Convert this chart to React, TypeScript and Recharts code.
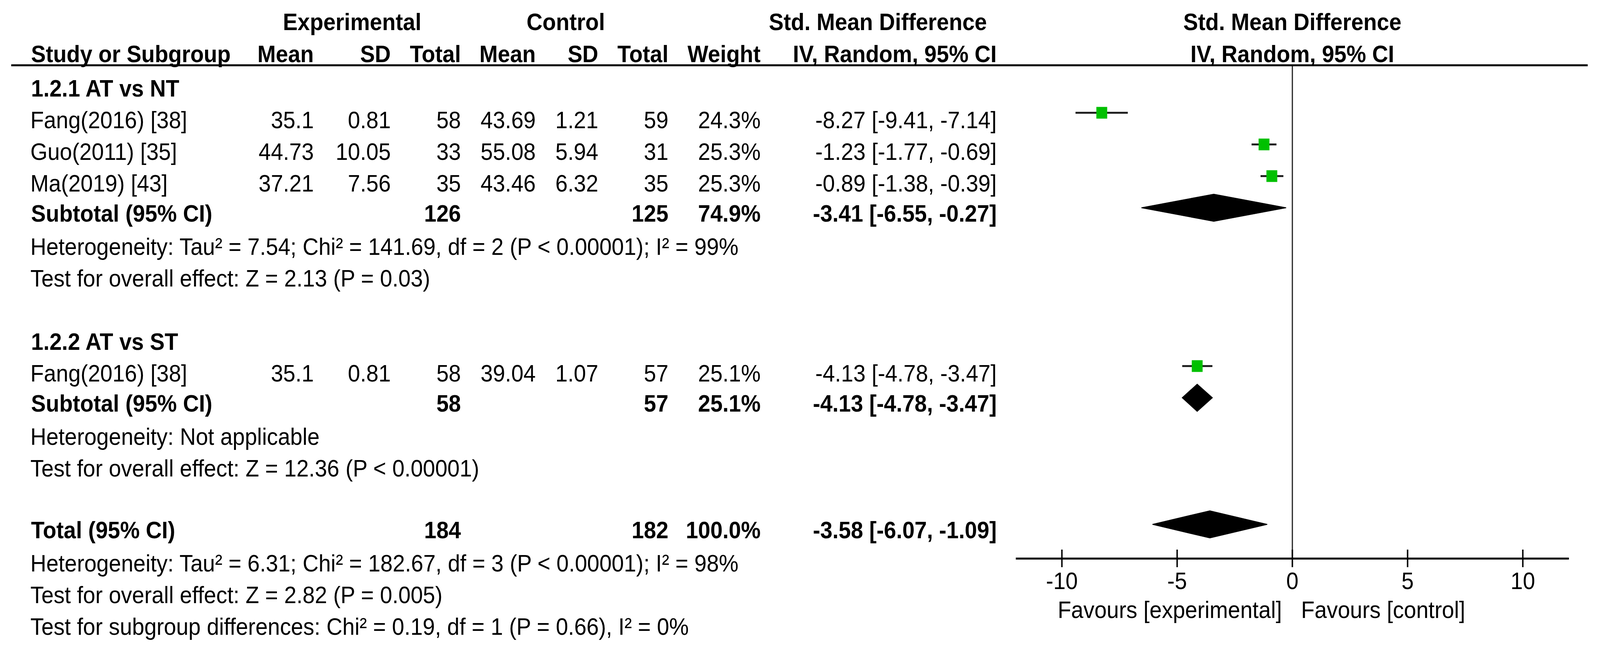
import React from 'react';
import { ComposedChart, Scatter, XAxis, YAxis, ErrorBar, ReferenceLine } from 'recharts';

const W = 4426;
const H = 1668;
const FONT = '"Liberation Sans", Arial, sans-serif';
const FS = 61;

// individual studies
const studyNames = ['Fang(2016) [38]', 'Guo(2011) [35]', 'Ma(2019) [43]', 'Fang(2016) [38]'];
const studyRows = [2, 3, 4, 10];
const expMean = [35.1, 44.73, 37.21, 35.1];
const expSD = [0.81, 10.05, 7.56, 0.81];
const expTotal = [58, 33, 35, 58];
const ctrlMean = [43.69, 55.08, 43.46, 39.04];
const ctrlSD = [1.21, 5.94, 6.32, 1.07];
const ctrlTotal = [59, 31, 35, 57];
const studyWeight = [24.3, 25.3, 25.3, 25.1];
const studySmd = [-8.27, -1.23, -0.89, -4.13];
const studyLo = [-9.41, -1.77, -1.38, -4.78];
const studyHi = [-7.14, -0.69, -0.39, -3.47];

// subtotals and total
const poolNames = ['Subtotal (95% CI)', 'Subtotal (95% CI)', 'Total (95% CI)'];
const poolRows = [5, 11, 15];
const poolExpTotal = [126, 58, 184];
const poolCtrlTotal = [125, 57, 182];
const poolWeight = [74.9, 25.1, 100.0];
const poolEst = [-3.41, -4.13, -3.58];
const poolLo = [-6.55, -4.78, -6.07];
const poolHi = [-0.27, -3.47, -1.09];

const groupNames = ['1.2.1 AT vs NT', '1.2.2 AT vs ST'];
const groupRows = [1, 9];

const notes = [
  'Heterogeneity: Tau² = 7.54; Chi² = 141.69, df = 2 (P < 0.00001); I² = 99%',
  'Test for overall effect: Z = 2.13 (P = 0.03)',
  'Heterogeneity: Not applicable',
  'Test for overall effect: Z = 12.36 (P < 0.00001)',
  'Heterogeneity: Tau² = 6.31; Chi² = 182.67, df = 3 (P < 0.00001); I² = 98%',
  'Test for overall effect: Z = 2.82 (P = 0.005)',
  'Test for subgroup differences: Chi² = 0.19, df = 1 (P = 0.66), I² = 0%',
];
const noteRows = [6, 7, 12, 13, 16, 17, 18];

const axisTicks = [-10, -5, 0, 5, 10];
const axisDomain = [-12, 12];

// layout of the table
const ROW0 = 166.5;
const ROWH = 81;
const baseY = (r: number) => ROW0 + ROWH * r;
const colX = { expMean: 868, expSD: 1081, expTotal: 1275, ctrlMean: 1482, ctrlSD: 1655, ctrlTotal: 1849, weight: 2104, ci: 2757 };
const ZERO_X = 3575;

const fmtCI = (e: number, l: number, h: number) => `${e.toFixed(2)} [${l.toFixed(2)}, ${h.toFixed(2)}]`;

const studyData = studySmd.map((s, i) => ({
  smd: s,
  row: studyRows[i],
  ci: [s - studyLo[i], studyHi[i] - s],
}));

const DIAMOND_HALF = 0.43;
const diamondData = poolEst.map((e, i) => [
  { smd: poolLo[i], row: poolRows[i] },
  { smd: e, row: poolRows[i] - DIAMOND_HALF },
  { smd: poolHi[i], row: poolRows[i] },
  { smd: e, row: poolRows[i] + DIAMOND_HALF },
]);

const Square = (p: any) => (
  <rect x={p.cx - 15} y={p.cy - 15} width={30} height={30} fill="#00c000" />
);

const Diamond = (p: any) => {
  const pts = p.points || [];
  if (!pts.length) return <g />;
  const d = pts.map((pt: any, i: number) => `${i ? 'L' : 'M'}${pt.x},${pt.y}`).join(' ') + ' Z';
  return <path d={d} fill="#000" stroke="#000" strokeWidth={2} />;
};

const AxisTick = (p: any) => (
  <g>
    <line x1={p.x} x2={p.x} y1={p.y - 23} y2={p.y + 22} stroke="#000" strokeWidth={4} />
    <text x={p.x} y={p.y + 78} textAnchor="middle" fontFamily={FONT} fontSize={FS} fill="#000">
      {p.payload.value}
    </text>
  </g>
);

const T = (props: any) => (
  <text fontFamily={FONT} fontSize={FS} fill="#000" {...props} />
);

export default function App() {
  // the browser viewport may be narrower than the figure; fit it to the frame
  const vw = typeof window !== 'undefined' ? window.innerWidth : W;
  const vh = typeof window !== 'undefined' ? window.innerHeight : H;
  const sx = Math.min(1, vw / W);
  const sy = Math.min(1, vh / H);

  return (
    <div style={{ width: W * sx, height: H * sy, overflow: 'hidden', background: '#fff' }}>
      <style>{'html,body{margin:0;padding:0;overflow:hidden;background:#fff}'}</style>
      <div style={{ position: 'relative', width: W, height: H, transform: `scale(${sx}, ${sy})`, transformOrigin: '0 0' }}>
        <ComposedChart
          width={W}
          height={H}
          margin={{ top: 167, right: 86, left: 2810, bottom: 139 }}
        >
          <XAxis
            type="number"
            dataKey="smd"
            domain={axisDomain}
            ticks={axisTicks}
            allowDataOverflow
            height={100}
            tickSize={0}
            tickMargin={0}
            tickLine={false}
            axisLine={{ stroke: '#000', strokeWidth: 5 }}
            tick={AxisTick}
            interval={0}
          />
          <YAxis type="number" dataKey="row" domain={[0.5, 16.08]} reversed hide allowDataOverflow />
          <ReferenceLine x={0} stroke="#333" strokeWidth={3.5} />
          <Scatter data={studyData} shape={Square} isAnimationActive={false}>
            <ErrorBar dataKey="ci" direction="x" width={0} stroke="#222" strokeWidth={5} isAnimationActive={false} />
          </Scatter>
          {diamondData.map((d, i) => (
            <Scatter
              key={i}
              data={d}
              shape={() => <g />}
              line={Diamond}
              isAnimationActive={false}
            />
          ))}
        </ComposedChart>
        <svg
          width={W}
          height={H}
          style={{ position: 'absolute', left: 0, top: 0, pointerEvents: 'none' }}
        >
          <line x1={31} x2={4392} y1={167} y2={167} stroke="#000" strokeWidth={5} />
          {/* column headers */}
          <g fontWeight="bold">
            <T x={974} y={77} textAnchor="middle">Experimental</T>
            <T x={1565} y={77} textAnchor="middle">Control</T>
            <T x={2730} y={77} textAnchor="end">Std. Mean Difference</T>
            <T x={ZERO_X} y={77} textAnchor="middle">Std. Mean Difference</T>
            <T x={86} y={159}>Study or Subgroup</T>
            <T x={colX.expMean} y={159} textAnchor="end">Mean</T>
            <T x={colX.expSD} y={159} textAnchor="end">SD</T>
            <T x={colX.expTotal} y={159} textAnchor="end">Total</T>
            <T x={colX.ctrlMean} y={159} textAnchor="end">Mean</T>
            <T x={colX.ctrlSD} y={159} textAnchor="end">SD</T>
            <T x={colX.ctrlTotal} y={159} textAnchor="end">Total</T>
            <T x={colX.weight} y={159} textAnchor="end">Weight</T>
            <T x={colX.ci} y={159} textAnchor="end">IV, Random, 95% CI</T>
            <T x={ZERO_X} y={159} textAnchor="middle">IV, Random, 95% CI</T>
          </g>
          {/* subgroup headings */}
          {groupNames.map((g, i) => (
            <T key={g} x={86} y={baseY(groupRows[i])} fontWeight="bold">{g}</T>
          ))}
          {/* study rows */}
          {studyNames.map((n, i) => {
            const y = baseY(studyRows[i]);
            return (
              <g key={i}>
                <T x={84} y={y}>{n}</T>
                <T x={colX.expMean} y={y} textAnchor="end">{String(expMean[i])}</T>
                <T x={colX.expSD} y={y} textAnchor="end">{String(expSD[i])}</T>
                <T x={colX.expTotal} y={y} textAnchor="end">{expTotal[i]}</T>
                <T x={colX.ctrlMean} y={y} textAnchor="end">{String(ctrlMean[i])}</T>
                <T x={colX.ctrlSD} y={y} textAnchor="end">{String(ctrlSD[i])}</T>
                <T x={colX.ctrlTotal} y={y} textAnchor="end">{ctrlTotal[i]}</T>
                <T x={colX.weight} y={y} textAnchor="end">{`${studyWeight[i].toFixed(1)}%`}</T>
                <T x={colX.ci} y={y} textAnchor="end">{fmtCI(studySmd[i], studyLo[i], studyHi[i])}</T>
              </g>
            );
          })}
          {/* pooled rows */}
          {poolNames.map((n, i) => {
            const y = baseY(poolRows[i]) - 4;
            return (
              <g key={i} fontWeight="bold">
                <T x={86} y={y}>{n}</T>
                <T x={colX.expTotal} y={y} textAnchor="end">{poolExpTotal[i]}</T>
                <T x={colX.ctrlTotal} y={y} textAnchor="end">{poolCtrlTotal[i]}</T>
                <T x={colX.weight} y={y} textAnchor="end">{`${poolWeight[i].toFixed(1)}%`}</T>
                <T x={colX.ci} y={y} textAnchor="end">{fmtCI(poolEst[i], poolLo[i], poolHi[i])}</T>
              </g>
            );
          })}
          {/* heterogeneity / tests */}
          {notes.map((n, i) => (
            <T key={i} x={84} y={baseY(noteRows[i])}>{n}</T>
          ))}
          {/* favours labels */}
          <T x={3546} y={1581} textAnchor="end">Favours [experimental]</T>
          <T x={3599} y={1581}>Favours [control]</T>
        </svg>
      </div>
    </div>
  );
}
